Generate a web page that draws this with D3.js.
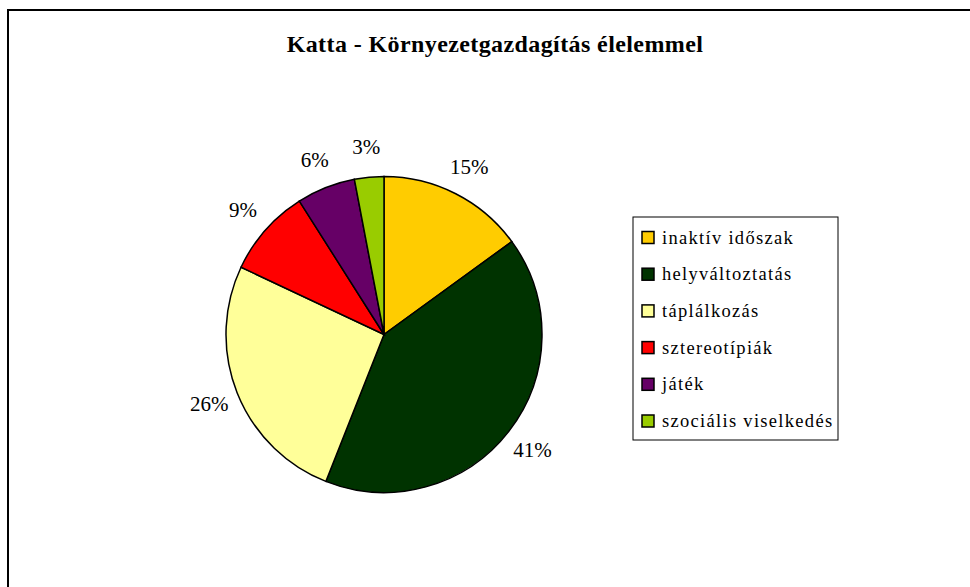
<!DOCTYPE html>
<html>
<head>
<meta charset="utf-8">
<script src="https://cdn.jsdelivr.net/npm/d3@7"></script>
</head>
<body style="margin:0; background:#fff">
<svg id="chart" width="970" height="587"></svg>
<script>
// data
const categories = ["inaktív időszak", "helyváltoztatás", "táplálkozás", "sztereotípiák", "játék", "szociális viselkedés"];
const values = [15, 41, 26, 9, 6, 3];
const colors = ["#FFCC00", "#003300", "#FFFF99", "#FF0000", "#660066", "#99CC00"];
const title = "Katta - Környezetgazdagítás élelemmel";

const serif = "'Liberation Serif', 'Times New Roman', serif";
const svg = d3.select("#chart");

// outer frame (runs off right/bottom)
svg.append("rect")
    .attr("x", 8).attr("y", 10)
    .attr("width", 1000).attr("height", 1000)
    .attr("fill", "none")
    .attr("stroke", "#000")
    .attr("stroke-width", 2);

svg.append("text") // title
    .attr("x", 495).attr("y", 52)
    .attr("text-anchor", "middle")
    .style("font-family", serif)
    .style("font-weight", "bold")
    .style("font-size", "24px")
    .style("letter-spacing", "0.4px")
    .text(title);

const cx = 384, cy = 334.5, r = 158;
const data = categories.map((c, i) => ({name: c, value: values[i], color: colors[i]}));

const pie = d3.pie().sort(null).value(d => d.value);
const arc = d3.arc().innerRadius(0).outerRadius(r);
const labelArc = d3.arc().innerRadius(188).outerRadius(188);

const g = svg.append("g").attr("transform", "translate(" + cx + "," + cy + ")");

g.selectAll("path.slice")
  .data(pie(data))
  .join("path")
    .attr("class", "slice")
    .attr("d", arc)
    .attr("fill", d => d.data.color)
    .attr("stroke", "#000")
    .attr("stroke-width", 1.5);

g.selectAll("text.pct") // percentage labels outside the slices
  .data(pie(data))
  .join("text")
    .attr("class", "pct")
    .attr("transform", d => "translate(" + labelArc.centroid(d) + ")")
    .attr("text-anchor", "middle")
    .attr("dy", "0.33em")
    .style("font-family", serif)
    .style("font-size", "21px")
    .text(d => d.data.value + "%");

// legend
const lg = svg.append("g").attr("transform", "translate(633,217)");
lg.append("rect")
    .attr("width", 205).attr("height", 223)
    .attr("fill", "#fff")
    .attr("stroke", "#000")
    .attr("stroke-width", 1);

const rowY = d3.scalePoint().domain(categories).range([20.5, 204]);

const items = lg.selectAll("g.item")
  .data(data)
  .join("g")
    .attr("class", "item")
    .attr("transform", d => "translate(9," + rowY(d.name) + ")");

items.append("rect")
    .attr("x", 0).attr("y", -6)
    .attr("width", 12).attr("height", 12)
    .attr("fill", d => d.color)
    .attr("stroke", "#000")
    .attr("stroke-width", 1.5);

items.append("text")
    .attr("x", 20)
    .attr("dy", "0.33em")
    .style("font-family", serif)
    .style("font-size", "18.5px")
    .style("letter-spacing", "1.3px")
    .text(d => d.name);
</script>
</body>
</html>
